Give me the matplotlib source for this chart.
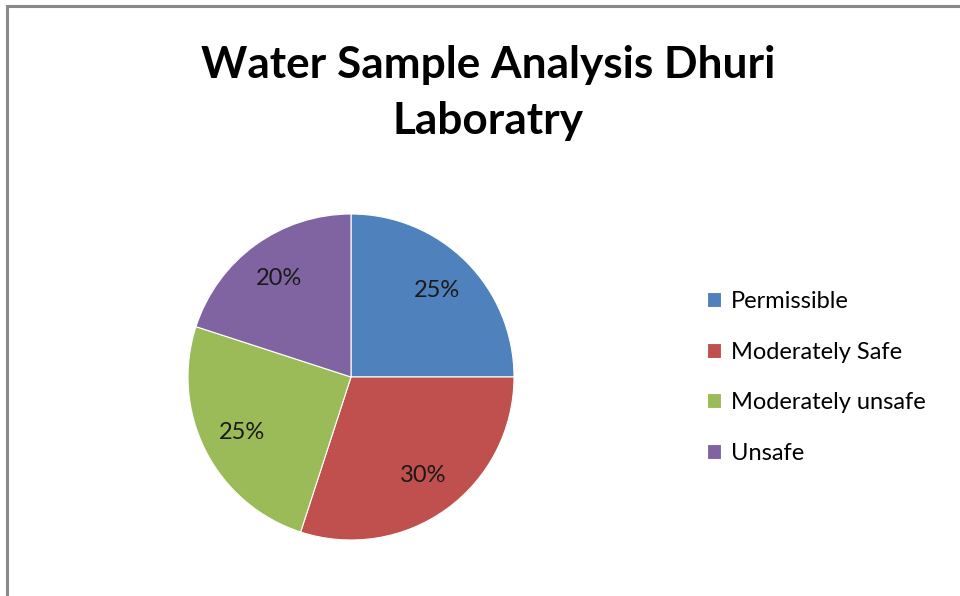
import matplotlib.pyplot as plt
from matplotlib.patches import Rectangle

labels = ["Permissible", "Moderately Safe", "Moderately unsafe", "Unsafe"]
shares = [25, 30, 25, 20]
colors = ["#4F81BD", "#C0504D", "#9BBB59", "#8064A2"]
title = "Water Sample Analysis Dhuri\nLaboratry"

plt.rcParams['font.family'] = ['Lato', 'DejaVu Sans']

fig = plt.figure(figsize=(9.6, 5.96), dpi=100)

# grey chart border (only top and left visible in the crop)
fig.add_artist(Rectangle((7 / 960, -0.5), 2, 1.5 - 6 / 596,
                         transform=fig.transFigure, fill=False,
                         edgecolor="#8a8a8a", linewidth=2.2))

fig.text(488 / 960, 1 - 93 / 596, title, ha='center', va='center',
         fontsize=31.8, fontweight='bold', linespacing=1.5)

# pie axes, centred at about (351, 377) px with radius 163 px
r = 163
ax = fig.add_axes([(351 - r) / 960, 1 - (377 + r) / 596, 2 * r / 960, 2 * r / 596])
wedges, texts, autotexts = ax.pie(
    shares, colors=colors, startangle=90, counterclock=False,
    autopct='%d%%', pctdistance=0.75,
    wedgeprops=dict(edgecolor='white', linewidth=0.8),
    textprops=dict(fontsize=17, color='#1a1a1a'))
ax.set_xlim(-1, 1)
ax.set_ylim(-1, 1)
ax.set_aspect('equal')

fig.legend(wedges, labels, loc='center left',
           bbox_to_anchor=(686 / 960, 1 - 377.5 / 596),
           frameon=False, fontsize=17, handlelength=0.6, handleheight=0.6,
           handletextpad=0.4, labelspacing=1.25)

fig.savefig("out.png", dpi=100)
